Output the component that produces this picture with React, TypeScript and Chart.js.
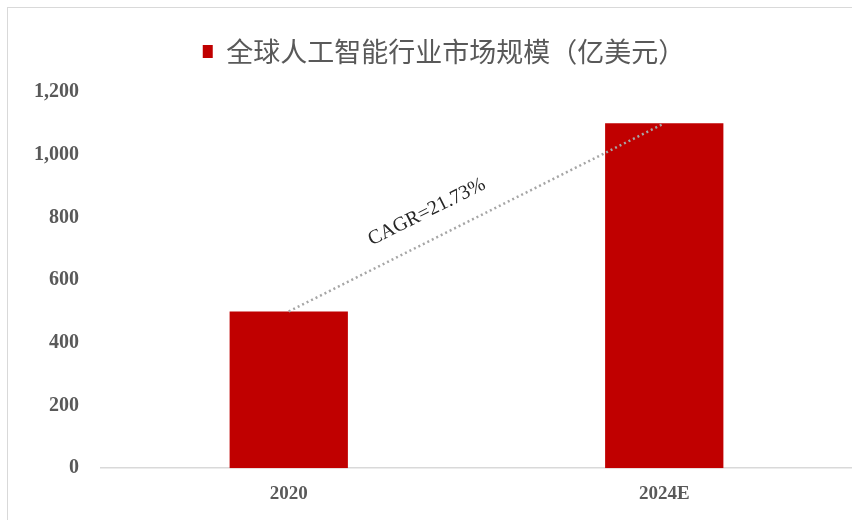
import React, { useEffect, useRef } from "react";
import { Chart, registerables } from "chart.js";

Chart.register(...registerables);

const categories = ["2020", "2024E"];
const marketSize = [500, 1100];
const trendValues = [500, 1100];
const seriesLabel = "全球人工智能行业市场规模（亿美元）";
const cagrLabel = "CAGR=21.73%";
const yTicks = [0, 200, 400, 600, 800, 1000, 1200];

const legendSpacer = {
  id: "legendSpacer",
  beforeInit(chart: any) {
    const orig = chart.legend.fit;
    chart.legend.fit = function () {
      orig.bind(chart.legend)();
      this.height += 15;
    };
  },
  afterLayout(chart: any) {
    if (chart.legend) {
      chart.legend.left += 12;
      chart.legend.right += 12;
      chart.legend.top -= 2;
      chart.legend.bottom -= 2;
    }
  },
};

const cagrText = {
  id: "cagrText",
  afterDatasetsDraw(chart: any) {
    const meta = chart.getDatasetMeta(1);
    if (!meta || meta.data.length < 2) return;
    const p0 = meta.data[0];
    const p1 = meta.data[1];
    const dx = p1.x - p0.x;
    const dy = p1.y - p0.y;
    const len = Math.sqrt(dx * dx + dy * dy);
    const ang = Math.atan2(dy, dx);
    const t = 0.4;
    const nx = dy / len;
    const ny = -dx / len;
    const cx = p0.x + dx * t + nx * 27;
    const cy = p0.y + dy * t + ny * 27;
    const ctx = chart.ctx;
    ctx.save();
    ctx.translate(cx, cy);
    ctx.rotate(ang);
    ctx.font = "20px 'Liberation Serif', serif";
    ctx.fillStyle = "#262626";
    ctx.textAlign = "center";
    ctx.textBaseline = "middle";
    ctx.fillText(cagrLabel, 0, 0);
    ctx.restore();
  },
};

export default function App() {
  const ref = useRef<HTMLCanvasElement | null>(null);
  useEffect(() => {
    if (!ref.current) return;
    const chart = new Chart(ref.current, {
      type: "bar",
      data: {
        labels: categories,
        datasets: [
          {
            type: "bar",
            label: seriesLabel,
            data: marketSize,
            backgroundColor: "#C00000",
            borderWidth: 0,
            barPercentage: 0.315,
            categoryPercentage: 1,
            order: 2,
          },
          {
            type: "line",
            label: "trend",
            data: trendValues,
            borderColor: "#a6a6a6",
            borderWidth: 2.5,
            borderDash: [2, 3],
            pointRadius: 0,
            fill: false,
            order: 1,
          } as any,
        ],
      },
      options: {
        animation: false,
        responsive: false,
        maintainAspectRatio: false,
        layout: { padding: { left: 12, right: 0, top: 30, bottom: 0 } },
        plugins: {
          legend: {
            display: true,
            position: "top",
            labels: {
              filter: (item: any) => item.datasetIndex === 0,
              boxWidth: 10,
              boxHeight: 13,
              padding: 10,
              color: "#595959",
              font: { family: "'Noto Sans CJK SC', sans-serif", size: 27 },
            },
          },
          tooltip: { enabled: false },
        },
        scales: {
          x: {
            grid: { display: false, drawTicks: false },
            border: { display: true, color: "#d9d9d9", width: 1.5 },
            ticks: {
              color: "#595959",
              padding: 14.5,
              font: { family: "'Liberation Serif', serif", size: 19, weight: "bold" },
            },
          },
          y: {
            min: 0,
            max: 1200,
            afterBuildTicks: (axis: any) => {
              axis.ticks = yTicks.map((v) => ({ value: v }));
            },
            grid: { display: false, drawTicks: false },
            border: { display: false },
            ticks: {
              color: "#595959",
              padding: 22,
              font: { family: "'Liberation Serif', serif", size: 20, weight: "bold" },
              callback: (v: any) => Number(v).toLocaleString("en-US"),
            },
          },
        },
      },
      plugins: [legendSpacer, cagrText],
    });
    return () => chart.destroy();
  }, []);
  return (
    <div style={{ position: "fixed", left: 0, top: 0, width: 852, height: 520, background: "#fff", overflow: "hidden" }}>
      <div
        style={{
          position: "absolute",
          left: 7,
          top: 7,
          width: 900,
          height: 600,
          borderTop: "1.5px solid #d9d9d9",
          borderLeft: "1.5px solid #d9d9d9",
        }}
      />
      <canvas ref={ref} width={852} height={520} style={{ position: "absolute", left: 0, top: 0 }} />
    </div>
  );
}
